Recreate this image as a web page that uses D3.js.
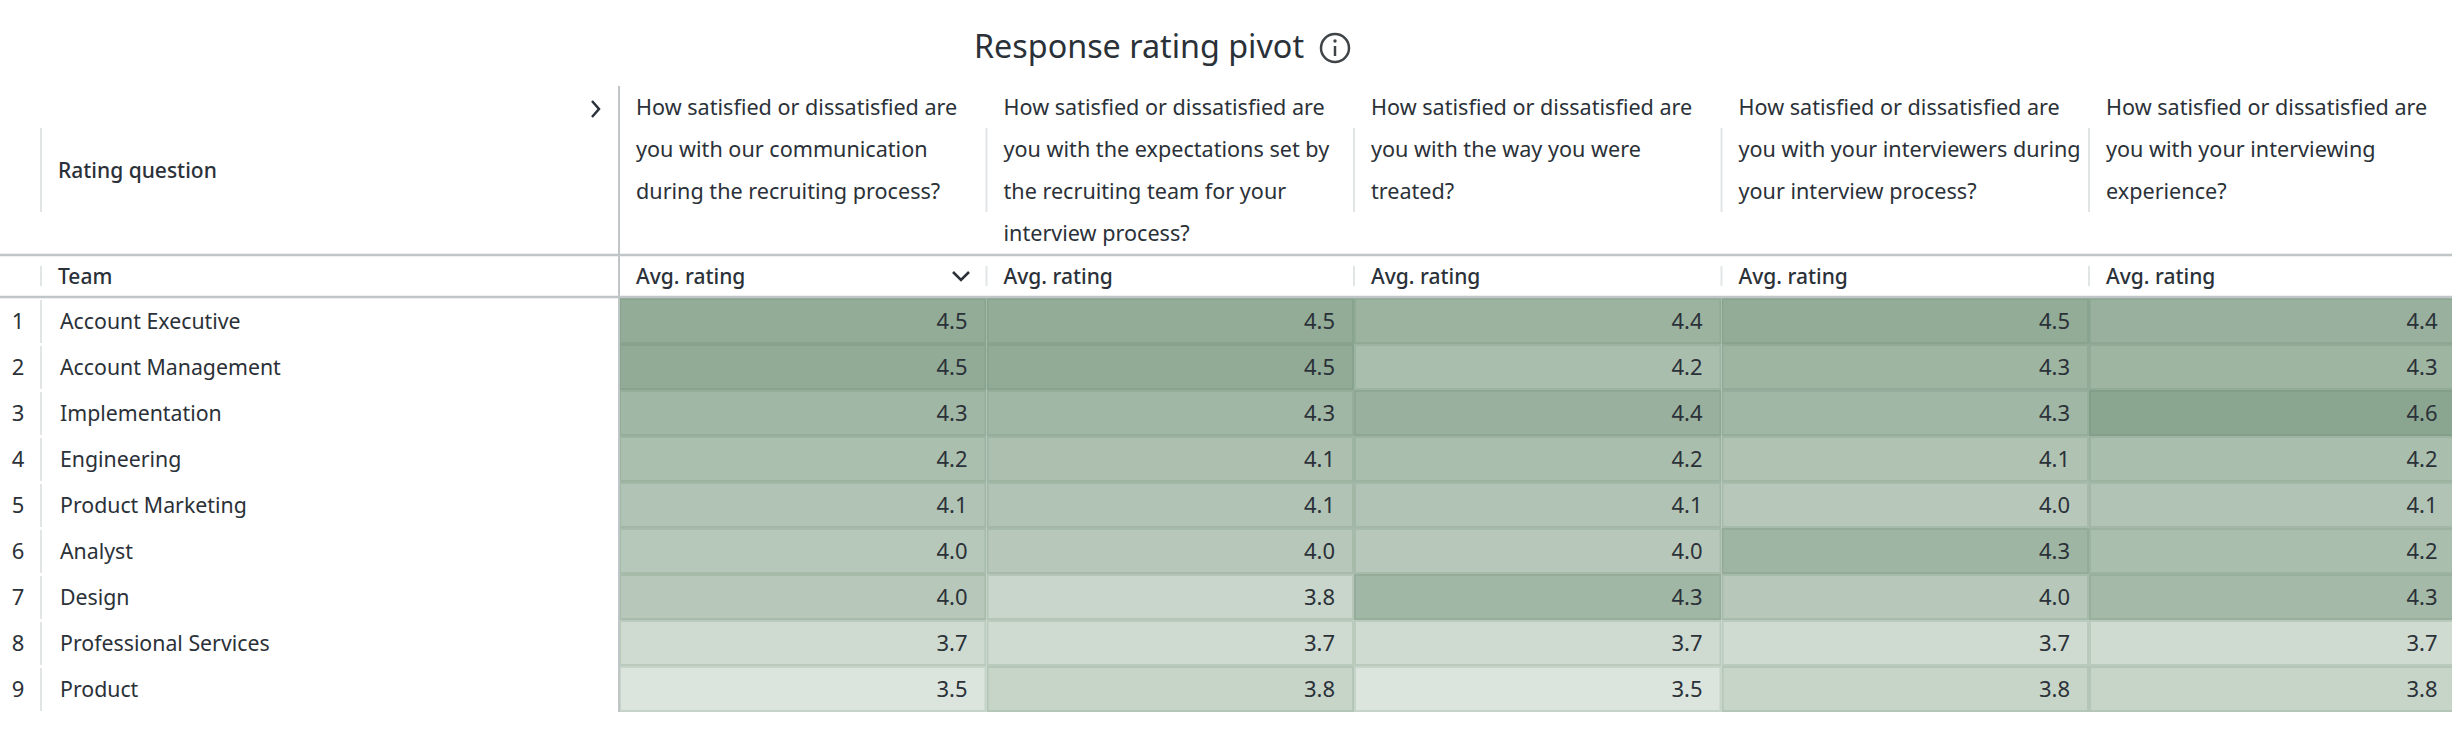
<!DOCTYPE html>
<html>
<head>
<meta charset="utf-8">
<script src="https://cdn.jsdelivr.net/npm/d3@7"></script>
<style>
  html, body { margin: 0; padding: 0; background: #fff; }
  svg { display: block; }
  text { font-family: "Noto Sans", sans-serif; fill: #2b3138; }
</style>
</head>
<body>
<svg id="chart" width="2452" height="742"></svg>
<script>
const title = 'Response rating pivot';
const rowHeader = 'Team';
const colHeader = 'Rating question';
const measure = 'Avg. rating';
const teams = ['Account Executive', 'Account Management', 'Implementation', 'Engineering',
  'Product Marketing', 'Analyst', 'Design', 'Professional Services', 'Product'];
const questions = [
  ['How satisfied or dissatisfied are', 'you with our communication', 'during the recruiting process?'],
  ['How satisfied or dissatisfied are', 'you with the expectations set by', 'the recruiting team for your', 'interview process?'],
  ['How satisfied or dissatisfied are', 'you with the way you were', 'treated?'],
  ['How satisfied or dissatisfied are', 'you with your interviewers during', 'your interview process?'],
  ['How satisfied or dissatisfied are', 'you with your interviewing', 'experience?']
];
// values carry a second decimal guessed from the cell shade, labels show one
const ratings = [
  [4.50, 4.50, 4.38, 4.50, 4.42],
  [4.52, 4.52, 4.18, 4.34, 4.34],
  [4.30, 4.30, 4.42, 4.30, 4.60],
  [4.17, 4.14, 4.18, 4.10, 4.18],
  [4.09, 4.09, 4.09, 4.00, 4.09],
  [4.01, 4.00, 4.00, 4.33, 4.18],
  [4.00, 3.76, 4.30, 4.00, 4.26],
  [3.68, 3.68, 3.68, 3.68, 3.68],
  [3.50, 3.78, 3.50, 3.78, 3.78]
];

const svg = d3.select('#chart');
const gridGrey = '#c0c6c7';
const sepGrey = '#e2e5e6';

const x = d3.scaleBand().domain(d3.range(questions.length)).range([619, 2456.5]);
const y = d3.scaleBand().domain(teams).range([298, 712]);
const color = d3.scaleLinear().domain([3.5, 4.6]).range(['#dce5dd', '#8ba690']);

// cells
const cells = svg.append('g').selectAll('g')
  .data(ratings.flatMap((row, r) => row.map((v, c) => ({ team: teams[r], c, v }))))
  .join('g')
  .attr('transform', d => `translate(${x(d.c)},${y(d.team)})`);

cells.append('rect')
  .attr('x', 1).attr('y', 1)
  .attr('width', x.bandwidth() - 2).attr('height', y.bandwidth() - 2)
  .attr('fill', d => color(d.v))
  .attr('stroke', d => d3.interpolateRgb(color(d.v), '#5c7f68')(0.18))
  .attr('stroke-width', 2);

cells.append('text')
  .attr('x', x.bandwidth() - 19)
  .attr('y', y.bandwidth() / 2)
  .attr('dy', '0.36em')
  .attr('text-anchor', 'end')
  .attr('font-size', 22)
  .text(d => d.v.toFixed(1));

// row labels
const rows = svg.append('g').selectAll('g').data(teams).join('g')
  .attr('transform', d => `translate(0,${y(d)})`);
rows.append('text')
  .attr('x', 18).attr('y', y.bandwidth() / 2).attr('dy', '0.36em')
  .attr('text-anchor', 'middle').attr('font-size', 22)
  .text((d, i) => i + 1);
rows.append('text')
  .attr('x', 60).attr('y', y.bandwidth() / 2).attr('dy', '0.36em')
  .attr('font-size', 21.3)
  .text(d => d);
rows.append('line')
  .attr('x1', 41).attr('x2', 41).attr('y1', 2).attr('y2', y.bandwidth() - 1)
  .attr('stroke', sepGrey).attr('stroke-width', 2);

// header grid
svg.append('line').attr('x1', 0).attr('x2', 2452).attr('y1', 255).attr('y2', 255)
  .attr('stroke', gridGrey).attr('stroke-width', 2.5);
svg.append('line').attr('x1', 0).attr('x2', 2452).attr('y1', 297).attr('y2', 297)
  .attr('stroke', gridGrey).attr('stroke-width', 2.5);
svg.append('line').attr('x1', 619).attr('x2', 619).attr('y1', 86).attr('y2', 712)
  .attr('stroke', gridGrey).attr('stroke-width', 2);

const seps = [41, ...d3.range(1, questions.length).map(c => x(c))];
svg.append('g').selectAll('line').data(seps).join('line')
  .attr('x1', d => d).attr('x2', d => d).attr('y1', 128).attr('y2', 212)
  .attr('stroke', sepGrey).attr('stroke-width', 2);
svg.append('g').selectAll('line').data(seps).join('line')
  .attr('x1', d => d).attr('x2', d => d).attr('y1', 266).attr('y2', 286)
  .attr('stroke', sepGrey).attr('stroke-width', 2);

// header text
svg.append('text').attr('x', 974).attr('y', 46).attr('dy', '0.36em')
  .attr('font-size', 32.3).text(title);
svg.append('text').attr('x', 58).attr('y', 170).attr('dy', '0.36em')
  .attr('font-size', 21).attr('font-weight', 500).text(colHeader);
svg.append('text').attr('x', 58).attr('y', 276).attr('dy', '0.36em')
  .attr('font-size', 21).attr('font-weight', 500).text(rowHeader);

svg.append('g').selectAll('text').data(questions).join('text')
  .attr('font-size', 21.6)
  .each(function (lines, c) {
    d3.select(this).selectAll('tspan').data(lines).join('tspan')
      .attr('x', x(c) + 17)
      .attr('y', (d, i) => 107 + i * 42)
      .attr('dy', '0.36em')
      .text(d => d);
  });

svg.append('g').selectAll('text').data(questions).join('text')
  .attr('x', (d, c) => x(c) + 17).attr('y', 276).attr('dy', '0.36em')
  .attr('font-size', 21).attr('font-weight', 500)
  .text(measure);

// icons
const iconStroke = '#2b3138';
svg.append('path').attr('d', 'M592,101 L599,109 L592,117')
  .attr('fill', 'none').attr('stroke', iconStroke).attr('stroke-width', 2.5);
svg.append('path').attr('d', 'M953,272 L961,280 L969,272')
  .attr('fill', 'none').attr('stroke', iconStroke).attr('stroke-width', 2.5);
const info = svg.append('g').attr('transform', 'translate(1335,48)');
info.append('circle').attr('r', 14).attr('fill', 'none').attr('stroke', '#3f4448').attr('stroke-width', 2.5);
info.append('line').attr('y1', -2).attr('y2', 8).attr('stroke', '#3f4448').attr('stroke-width', 2.5);
info.append('circle').attr('cy', -7).attr('r', 1.7).attr('fill', '#3f4448');
</script>
</body>
</html>
